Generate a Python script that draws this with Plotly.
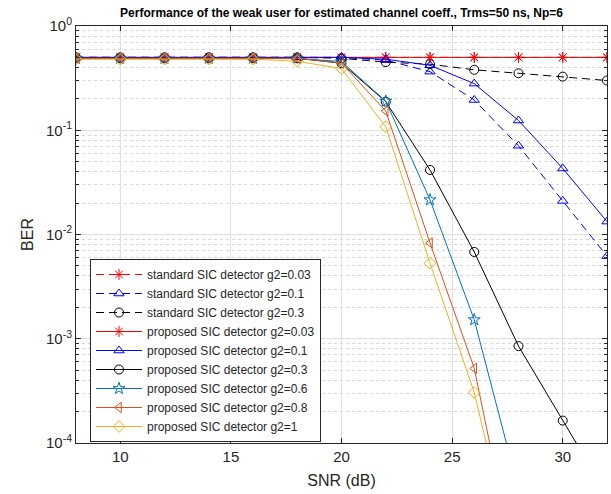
import plotly.graph_objects as go

snr = [8, 10, 12, 14, 16, 18, 20, 22, 24, 26, 28, 30, 32]

std_g003 = [0.5, 0.5, 0.5, 0.5, 0.5, 0.5, 0.5, 0.5, 0.5, 0.5, 0.5, 0.5, 0.5]
std_g01 = [0.5, 0.5, 0.5, 0.5, 0.5, 0.5, 0.5, 0.47, 0.365, 0.195, 0.071, 0.021, 0.0062]
std_g03 = [0.5, 0.5, 0.5, 0.5, 0.5, 0.5, 0.49, 0.45, 0.43, 0.38, 0.352, 0.327, 0.30]
prop_g003 = [0.5, 0.5, 0.5, 0.5, 0.5, 0.5, 0.5, 0.5, 0.5, 0.5, 0.5, 0.5, 0.5]
prop_g01 = [0.5, 0.5, 0.5, 0.5, 0.5, 0.5, 0.5, 0.48, 0.42, 0.28, 0.124, 0.043, 0.0133]
prop_g03 = [0.49, 0.49, 0.49, 0.49, 0.49, 0.49, 0.44, 0.188, 0.0416, 0.0068, 0.00085, 0.000164, 0.000032]
prop_g06 = [0.49, 0.49, 0.49, 0.49, 0.49, 0.49, 0.455, 0.19, 0.0215, 0.00152, 0.000036, None, None]
prop_g08 = [0.49, 0.49, 0.49, 0.49, 0.49, 0.49, 0.44, 0.153, 0.0083, 0.00052, 0.0000046, None, None]
prop_g1 = [0.48, 0.48, 0.48, 0.48, 0.48, 0.46, 0.39, 0.108, 0.0053, 0.000305, 0.000005, None, None]

names = [
    "standard SIC detector g2=0.03",
    "standard SIC detector g2=0.1",
    "standard SIC detector g2=0.3",
    "proposed SIC detector g2=0.03",
    "proposed SIC detector g2=0.1",
    "proposed SIC detector g2=0.3",
    "proposed SIC detector g2=0.6",
    "proposed SIC detector g2=0.8",
    "proposed SIC detector g2=1",
]
series = [std_g003, std_g01, std_g03, prop_g003, prop_g01, prop_g03, prop_g06, prop_g08, prop_g1]
colors = ["#FF0000", "#0000FF", "#000000", "#FF0000", "#0000FF", "#000000",
          "#0072BD", "#D95319", "#EDB120"]
symbols = ["asterisk-open", "triangle-up-open", "circle-open",
           "asterisk-open", "triangle-up-open", "circle-open",
           "star-open", "triangle-left-open", "diamond-open"]
dashes = ["8px,5px", "8px,5px", "8px,5px", "solid", "solid", "solid", "solid", "solid", "solid"]

ytickvals = [1e-4, 1e-3, 1e-2, 1e-1, 1]
yticktext = ["10<sup>-4</sup>", "10<sup>-3</sup>", "10<sup>-2</sup>", "10<sup>-1</sup>", "10<sup>0</sup>"]
xtickvals = [10, 15, 20, 25, 30]

fig = go.Figure()
for name, ys, c, s, d in zip(names, series, colors, symbols, dashes):
    fig.add_trace(go.Scatter(
        x=snr, y=ys, name=name, mode="lines+markers",
        line=dict(color=c, width=1, dash=d),
        marker=dict(symbol=s, size=9, color=c, line=dict(color=c, width=1)),
        connectgaps=False,
    ))

font = "Liberation Sans, Arial, sans-serif"
fig.update_layout(
    width=611, height=494,
    margin=dict(l=76, r=4, t=26, b=51),
    paper_bgcolor="white", plot_bgcolor="white",
    font=dict(family=font, color="#262626", size=15),
    title=dict(text="<b>Performance of the weak user for estimated channel coeff., Trms=50 ns, Np=6</b>",
               x=(76 + 607) / 2 / 611, xanchor="center",
               y=1 - 13 / 494, yanchor="middle", yref="container",
               font=dict(size=12, color="#000000")),
    showlegend=True,
    legend=dict(x=(90 - 76) / 531, y=(443 - 259) / 417, xanchor="left", yanchor="top",
                bgcolor="white", bordercolor="#262626", borderwidth=1,
                font=dict(size=12, color="#262626"), tracegroupgap=0,
                itemwidth=46, entrywidth=240, entrywidthmode="pixels"),
)
fig.update_xaxes(
    range=[8, 32], tickvals=xtickvals, ticks="inside", ticklen=5, tickcolor="#262626",
    showline=True, linecolor="#262626", linewidth=1, mirror="ticks",
    showgrid=True, gridcolor="#dfdfdf", gridwidth=1, zeroline=False,
    title=dict(text="SNR (dB)", font=dict(size=16), standoff=10),
    tickfont=dict(size=15),
)
fig.update_yaxes(
    type="log", range=[-4, 0], tickvals=ytickvals, ticktext=yticktext,
    ticks="inside", ticklen=5, tickcolor="#262626",
    showline=True, linecolor="#262626", linewidth=1, mirror="ticks",
    showgrid=True, gridcolor="#dfdfdf", gridwidth=1, zeroline=False,
    minor=dict(dtick="D1", ticks="inside", ticklen=3, tickcolor="#262626",
               showgrid=True, gridcolor="#d6d6d6", griddash="dot", gridwidth=1),
    title=dict(text="BER", font=dict(size=16), standoff=8),
    tickfont=dict(size=15),
)

fig.write_html("out.html")
